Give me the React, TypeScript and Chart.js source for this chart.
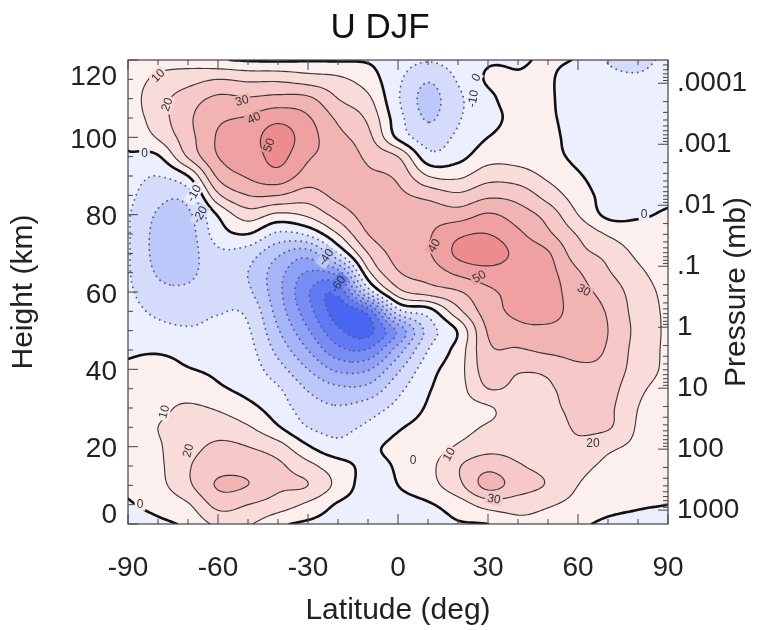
import React, { useEffect, useRef } from 'react';
import { Chart, registerables } from 'chart.js';

Chart.register(...registerables);

const FONT_FAMILY = "'Liberation Sans', Arial, Helvetica, sans-serif";

// ---------------- data ----------------
const latitudes = [-90, -80, -70, -60, -50, -40, -30, -20, -10, 0, 10, 20, 30, 40, 50, 60, 70, 80, 90];
const heights = [0, 5, 10, 15, 20, 25, 30, 35, 40, 45, 50, 55, 60, 65, 70, 75, 80, 85, 90, 95, 100, 105, 110, 115, 120];

// zonal wind U (m/s), one row per height (km), columns follow `latitudes`
const uWind: number[][] = [
  /*   0 */ [-4, -2, 2, 12, 11, 2, -2, -4, -4, -4, -4, -1, 0, 7, 6, 2, -2, -3, -4],
  /*   5 */ [-1, 3, 9, 23, 20, 15, 8, -1, -4, -3, -1, 5, 14, 14, 11, 7, 3, 1, 0],
  /*  10 */ [2, 7, 18, 31, 30, 22, 20, 7, -4, 0, 6, 17, 33, 25, 19, 10, 6, 4, 2],
  /*  15 */ [3, 8, 19, 26, 26, 22, 13, 4, -2, 1, 7, 19, 27, 21, 17, 13, 8, 6, 3],
  /*  20 */ [3, 9, 16, 22, 20, 14, 1, -7, -2, 2, 5, 11, 16, 16, 15, 18, 12, 8, 4],
  /*  25 */ [3, 10, 12, 15, 11, 1, -10, -13, -8, -1, 3, 7, 11, 14, 16, 21, 21, 9, 5],
  /*  30 */ [3, 8, 11, 9, 3, -5, -15, -19, -15, -7, 1, 6, 9, 15, 18, 22, 22, 10, 6],
  /*  35 */ [2, 6, 6, 1.5, -3, -9, -21, -28, -27, -13, -1, 6, 20, 18, 19, 24, 24, 12, 7],
  /*  40 */ [1, 3, 0.5, -2, -5, -16, -30, -42, -41, -22, -4, 6, 25, 21, 22, 28, 27, 15, 8],
  /*  45 */ [-1, -1, -3, -6, -7, -23, -40, -57, -59, -35, -10, 4, 28, 29, 32, 33, 29, 16, 8],
  /*  50 */ [-3, -7, -9, -8, -9, -29, -49, -68, -73, -48, -16, 1, 31, 37, 38, 36, 30, 17, 8],
  /*  55 */ [-6, -12, -13, -10.5, -12, -34, -56, -74, -66, -14, -5, 17, 35, 42, 43, 36, 29, 16, 8],
  /*  60 */ [-8, -17, -18, -13, -18, -37, -59, -68, -17, 16, 24, 29, 38, 43, 44, 34, 26, 15, 7],
  /*  65 */ [-9, -21, -22, -15, -20, -36, -51, -45, 7, 29, 34, 42, 46, 45, 43, 31, 21, 12, 5],
  /*  70 */ [-9, -23, -24, -12, -15, -28, -35, -10, 20, 34, 39, 52, 56, 47, 41, 24, 17, 8, 3],
  /*  75 */ [-9, -23, -24, -5, 0, -12, -8, 10, 30, 36, 39, 48, 50, 42, 32, 19, 9, 4, 2],
  /*  80 */ [-9, -21, -22, 1, 15, 8, 12, 24, 34, 35, 36, 35, 41, 35, 26, 10, -2, -1, 1],
  /*  85 */ [-7, -17, -15, 18, 30, 30, 25, 33, 35, 32, 27, 22, 28, 26, 16, 5, -3, -3, -2],
  /*  90 */ [-5, -10, 0, 32, 41, 46, 36, 38, 32, 28, 10, 8, 16, 15, 8, 1, -4, -4, -3],
  /*  95 */ [-1, -1, 21, 40, 44, 53, 41, 37, 28, 20, -6, -3, 6, 6, 3, -2, -5, -5, -4],
  /* 100 */ [2, 11, 26, 41, 45, 55, 44, 33, 23, -2, -15, -8, 0, 3, 2, -3, -5, -5, -4],
  /* 105 */ [4, 15, 28, 38, 41, 47, 41, 28, 18, -6, -21, -11, -3, 2, 1, -3, -6, -6, -5],
  /* 110 */ [5, 16, 25, 32, 31, 33, 32, 20, 12, -9, -23, -12, -2, 3, 1, -4, -7, -7, -6],
  /* 115 */ [5, 12, 16, 20, 18, 18, 15, 12, 5, -8, -19, -9, 1, 1, 1, -5, -8, -9, -7],
  /* 120 */ [4, 6, 5, 1, -1, -1.5, -1, -1, -1, -5, -9, -5, -1, -1, 1, -1, -10.5, -12, -8],
];

const latTicks = [-90, -60, -30, 0, 30, 60, 90];
const heightTicks = [0, 20, 40, 60, 80, 100, 120];
const pressureValues = [1000, 100, 10, 1, 0.1, 0.01, 0.001, 0.0001];
const pressureLabels = ['1000', '100', '10', '1', '.1', '.01', '.001', '.0001'];
const contourLevels = [-80, -70, -60, -50, -40, -30, -20, -10, 0, 10, 20, 30, 40, 50, 60];

const contourLabels = [
  { lat: -80, h: 116, text: '10', angle: -45 },
  { lat: -77, h: 108.5, text: '20', angle: -70 },
  { lat: -52, h: 109.5, text: '30', angle: -15 },
  { lat: -48, h: 105, text: '40', angle: -25 },
  { lat: -43, h: 98, text: '50', angle: -70 },
  { lat: -84.5, h: 96, text: '0', angle: 0 },
  { lat: -68, h: 85.5, text: '-10', angle: -60 },
  { lat: -66, h: 80, text: '-20', angle: -60 },
  { lat: -24, h: 69, text: '-40', angle: -55 },
  { lat: -20, h: 62, text: '-60', angle: -55 },
  { lat: 25, h: 110, text: '-10', angle: -80 },
  { lat: 26, h: 115.5, text: '0', angle: -60 },
  { lat: 82, h: 80, text: '0', angle: 0 },
  { lat: 12, h: 72, text: '40', angle: -60 },
  { lat: 27, h: 64, text: '50', angle: -30 },
  { lat: 62, h: 60.5, text: '30', angle: 30 },
  { lat: 65, h: 21, text: '20', angle: 0 },
  { lat: 5, h: 16.5, text: '0', angle: 0 },
  { lat: 17, h: 18, text: '10', angle: -60 },
  { lat: 32, h: 6.5, text: '30', angle: 10 },
  { lat: -86, h: 5, text: '0', angle: 0 },
  { lat: -78, h: 29, text: '10', angle: -75 },
  { lat: -70, h: 19, text: '20', angle: -75 },
];

// log-pressure height of the right axis: h = H0 - SCALE * log10(p)
const PRESSURE_H0 = 50.9;
const PRESSURE_SCALE = 15.77;
const pressureHeight = (p: number) => PRESSURE_H0 - PRESSURE_SCALE * Math.log10(p);

// ---------------- field interpolation ----------------
const NX = latitudes.length;
const NY = heights.length;

function gridVal(i: number, j: number): number {
  if (j < 0) return 2 * gridVal(i, 0) - gridVal(i, 1);
  if (j >= NY) return 2 * gridVal(i, NY - 1) - gridVal(i, NY - 2);
  if (i < 0) return 2 * uWind[j][0] - uWind[j][1];
  if (i >= NX) return 2 * uWind[j][NX - 1] - uWind[j][NX - 2];
  return uWind[j][i];
}

function cr(p0: number, p1: number, p2: number, p3: number, t: number) {
  return 0.5 * (2 * p1 + (-p0 + p2) * t + (2 * p0 - 5 * p1 + 4 * p2 - p3) * t * t + (-p0 + 3 * p1 - 3 * p2 + p3) * t * t * t);
}

function sample(lat: number, h: number): number {
  const fx = (lat - latitudes[0]) / (latitudes[1] - latitudes[0]);
  const fy = (h - heights[0]) / (heights[1] - heights[0]);
  const i = Math.min(Math.max(Math.floor(fx), 0), NX - 2);
  const j = Math.min(Math.max(Math.floor(fy), 0), NY - 2);
  const tx = fx - i;
  const ty = fy - j;
  const c: number[] = [];
  for (let dj = -1; dj <= 2; dj++) {
    c.push(cr(gridVal(i - 1, j + dj), gridVal(i, j + dj), gridVal(i + 1, j + dj), gridVal(i + 2, j + dj), tx));
  }
  return cr(c[0], c[1], c[2], c[3], ty);
}

const FLAT_STEP = 1;
const FH_STEP = 0.5;
const FNX = Math.round((latitudes[NX - 1] - latitudes[0]) / FLAT_STEP) + 1;
const FNY = Math.round((heights[NY - 1] - heights[0]) / FH_STEP) + 1;
let fineField: Float64Array | null = null;
function getField(): Float64Array {
  if (fineField) return fineField;
  const f = new Float64Array(FNX * FNY);
  for (let j = 0; j < FNY; j++) {
    for (let i = 0; i < FNX; i++) {
      f[j * FNX + i] = sample(latitudes[0] + i * FLAT_STEP, heights[0] + j * FH_STEP);
    }
  }
  fineField = f;
  return f;
}

function fieldAt(f: Float64Array, lat: number, h: number): number {
  let gx = (lat - latitudes[0]) / FLAT_STEP;
  let gy = (h - heights[0]) / FH_STEP;
  gx = Math.min(Math.max(gx, 0), FNX - 1.0001);
  gy = Math.min(Math.max(gy, 0), FNY - 1.0001);
  const i = Math.floor(gx), j = Math.floor(gy);
  const tx = gx - i, ty = gy - j;
  const a = f[j * FNX + i], b = f[j * FNX + i + 1], c = f[(j + 1) * FNX + i + 1], d = f[(j + 1) * FNX + i];
  return a * (1 - tx) * (1 - ty) + b * tx * (1 - ty) + c * tx * ty + d * (1 - tx) * ty;
}

function bandColor(v: number): [number, number, number] {
  const m = Math.floor(v / 10) * 10 + 5;
  if (m > 0) {
    const t = (m - 5) / 50;
    return [252 - 16 * t, 240 - 100 * t, 238 - 98 * t].map((c) => Math.max(0, Math.min(255, Math.round(c)))) as [number, number, number];
  }
  const t = (-m - 5) / 70;
  return [236 - 164 * t, 239 - 137 * t, 253 - 11 * t].map((c) => Math.max(0, Math.min(255, Math.round(c)))) as [number, number, number];
}

// marching squares + chaining, returns polylines in fine-grid coords
function traceLevel(f: Float64Array, L: number): Array<Array<[number, number]>> {
  const nx = FNX, ny = FNY;
  const NH = nx * ny;
  const v = (i: number, j: number) => f[j * nx + i];
  const segA: number[] = [];
  const segB: number[] = [];
  const add = (p: number, q: number) => { segA.push(p); segB.push(q); };
  for (let j = 0; j < ny - 1; j++) {
    for (let i = 0; i < nx - 1; i++) {
      const a = v(i, j), b = v(i + 1, j), c = v(i + 1, j + 1), d = v(i, j + 1);
      const idx = (a >= L ? 1 : 0) | (b >= L ? 2 : 0) | (c >= L ? 4 : 0) | (d >= L ? 8 : 0);
      if (idx === 0 || idx === 15) continue;
      const e0 = j * nx + i, e1 = NH + j * nx + i + 1, e2 = (j + 1) * nx + i, e3 = NH + j * nx + i;
      const center = (a + b + c + d) / 4 >= L;
      switch (idx) {
        case 1: case 14: add(e3, e0); break;
        case 2: case 13: add(e0, e1); break;
        case 3: case 12: add(e3, e1); break;
        case 4: case 11: add(e1, e2); break;
        case 6: case 9: add(e0, e2); break;
        case 7: case 8: add(e3, e2); break;
        case 5: if (center) { add(e0, e1); add(e2, e3); } else { add(e3, e0); add(e1, e2); } break;
        case 10: if (center) { add(e3, e0); add(e1, e2); } else { add(e0, e1); add(e2, e3); } break;
        default: break;
      }
    }
  }
  const edgePt = (key: number): [number, number] => {
    if (key < NH) {
      const j = Math.floor(key / nx), i = key % nx;
      const a = v(i, j), b = v(i + 1, j);
      return [i + (L - a) / (b - a), j];
    }
    const k = key - NH;
    const j = Math.floor(k / nx), i = k % nx;
    const a = v(i, j), b = v(i, j + 1);
    return [i, j + (L - a) / (b - a)];
  };
  const n = segA.length;
  const adj = new Map<number, number[]>();
  for (let s = 0; s < n; s++) {
    for (const k of [segA[s], segB[s]]) {
      let l = adj.get(k);
      if (!l) { l = []; adj.set(k, l); }
      l.push(s);
    }
  }
  const used = new Uint8Array(n);
  const walk = (start: number): number[] => {
    const out: number[] = [];
    let cur = start;
    for (;;) {
      const list = adj.get(cur)!;
      let nxt = -1;
      for (const s of list) if (!used[s]) { nxt = s; break; }
      if (nxt < 0) break;
      used[nxt] = 1;
      cur = segA[nxt] === cur ? segB[nxt] : segA[nxt];
      out.push(cur);
    }
    return out;
  };
  const lines: Array<Array<[number, number]>> = [];
  for (let s = 0; s < n; s++) {
    if (used[s]) continue;
    used[s] = 1;
    const fwd = walk(segB[s]);
    const bwd = walk(segA[s]).reverse();
    const keys = [...bwd, segA[s], segB[s], ...fwd];
    lines.push(keys.map(edgePt));
  }
  return lines;
}

// ---------------- plugin ----------------
const contourPlugin = {
  id: 'uContours',
  beforeDatasetsDraw(chart: any) {
    const { ctx, chartArea, scales } = chart;
    const xs = scales.x, ys = scales.y;
    const f = getField();
    const left = Math.round(chartArea.left), top = Math.round(chartArea.top);
    const w = Math.round(chartArea.right) - left, hgt = Math.round(chartArea.bottom) - top;

    // filled bands
    const off = document.createElement('canvas');
    off.width = w; off.height = hgt;
    const octx = off.getContext('2d')!;
    const img = octx.createImageData(w, hgt);
    const lats = new Float64Array(w);
    for (let px = 0; px < w; px++) lats[px] = xs.getValueForPixel(left + px + 0.5);
    for (let py = 0; py < hgt; py++) {
      const h = ys.getValueForPixel(top + py + 0.5);
      for (let px = 0; px < w; px++) {
        const [r, g, b] = bandColor(fieldAt(f, lats[px], h));
        const o = (py * w + px) * 4;
        img.data[o] = r; img.data[o + 1] = g; img.data[o + 2] = b; img.data[o + 3] = 255;
      }
    }
    octx.putImageData(img, 0, 0);
    ctx.save();
    ctx.drawImage(off, left, top);

    // contour lines
    ctx.beginPath();
    ctx.rect(chartArea.left, chartArea.top, chartArea.right - chartArea.left, chartArea.bottom - chartArea.top);
    ctx.clip();
    const toPx = (p: [number, number]) => [
      xs.getPixelForValue(latitudes[0] + p[0] * FLAT_STEP),
      ys.getPixelForValue(heights[0] + p[1] * FH_STEP),
    ];
    for (const L of contourLevels) {
      const lines = traceLevel(f, L);
      if (L === 0) {
        ctx.strokeStyle = '#111'; ctx.lineWidth = 2.6; ctx.setLineDash([]); ctx.lineCap = 'round';
      } else if (L > 0) {
        ctx.strokeStyle = '#383838'; ctx.lineWidth = 1.15; ctx.setLineDash([]); ctx.lineCap = 'round';
      } else {
        ctx.strokeStyle = '#565c76'; ctx.lineWidth = 1.9; ctx.setLineDash([0.01, 5.5]); ctx.lineCap = 'round';
      }
      ctx.lineJoin = 'round';
      for (const line of lines) {
        if (line.length < 2) continue;
        ctx.beginPath();
        line.forEach((p, k) => {
          const [x, y] = toPx(p);
          if (k === 0) ctx.moveTo(x, y); else ctx.lineTo(x, y);
        });
        ctx.stroke();
      }
    }
    ctx.setLineDash([]);

    // contour labels
    ctx.font = `12px ${FONT_FAMILY}`;
    ctx.textAlign = 'center';
    ctx.textBaseline = 'middle';
    for (const lb of contourLabels) {
      const x = xs.getPixelForValue(lb.lat);
      const y = ys.getPixelForValue(lb.h);
      const [r, g, b] = bandColor(fieldAt(f, lb.lat, lb.h));
      const tw = ctx.measureText(lb.text).width;
      ctx.save();
      ctx.translate(x, y);
      ctx.rotate((lb.angle * Math.PI) / 180);
      ctx.fillStyle = `rgb(${r},${g},${b})`;
      ctx.fillRect(-tw / 2 - 2, -6, tw + 4, 12);
      ctx.fillStyle = '#333';
      ctx.fillText(lb.text, 0, 0.5);
      ctx.restore();
    }
    ctx.restore();
  },
  afterDraw(chart: any) {
    const { ctx, chartArea, scales } = chart;
    const xs = scales.x, ys = scales.y;
    const { left, right, top, bottom } = chartArea;
    ctx.save();
    ctx.strokeStyle = '#444';
    ctx.lineWidth = 1.2;
    ctx.strokeRect(left, top, right - left, bottom - top);
    ctx.lineWidth = 1;
    ctx.beginPath();
    // latitude ticks (bottom + top), inward
    for (let lat = -90; lat <= 90; lat += 10) {
      const x = xs.getPixelForValue(lat);
      const len = lat % 30 === 0 ? 10 : 5;
      ctx.moveTo(x, bottom); ctx.lineTo(x, bottom - len);
      ctx.moveTo(x, top); ctx.lineTo(x, top + len);
    }
    // height ticks (left), inward
    for (let h = 0; h <= 120; h += 5) {
      const y = ys.getPixelForValue(h);
      const len = h % 20 === 0 ? 10 : 5;
      ctx.moveTo(left, y); ctx.lineTo(left + len, y);
    }
    // pressure ticks (right), inward
    for (let e = -5; e <= 3; e++) {
      for (let k = 1; k <= 9; k++) {
        const p = k * Math.pow(10, e);
        const h = pressureHeight(p);
        if (h < 0 || h > 120) continue;
        const y = ys.getPixelForValue(h);
        const len = k === 1 ? 10 : 5;
        ctx.moveTo(right, y); ctx.lineTo(right - len, y);
      }
    }
    ctx.stroke();

    ctx.fillStyle = '#222';
    // height tick labels (end labels kept inside the frame span)
    ctx.font = `28px ${FONT_FAMILY}`;
    ctx.textAlign = 'right';
    ctx.textBaseline = 'middle';
    for (const h of heightTicks) {
      const y = Math.min(Math.max(ys.getPixelForValue(h) + 3, top + 17), bottom - 9);
      ctx.fillText(String(h), left - 11, y);
    }

    // axis titles
    ctx.font = `30px ${FONT_FAMILY}`;
    ctx.textAlign = 'center';
    ctx.textBaseline = 'middle';
    ctx.fillText('Latitude (deg)', (left + right) / 2, 611);
    ctx.save();
    ctx.translate(24, (top + bottom) / 2);
    ctx.rotate(-Math.PI / 2);
    ctx.fillText('Height (km)', 0, 0);
    ctx.restore();
    ctx.save();
    ctx.translate(737, (top + bottom) / 2);
    ctx.rotate(-Math.PI / 2);
    ctx.fillText('Pressure (mb)', 0, 0);
    ctx.restore();
    ctx.restore();
  },
};

export default function App() {
  const canvasRef = useRef<HTMLCanvasElement | null>(null);
  useEffect(() => {
    if (!canvasRef.current) return;
    Chart.defaults.font.family = FONT_FAMILY;
    Chart.defaults.color = '#222';
    const chart = new Chart(canvasRef.current, {
      type: 'scatter',
      data: { datasets: [] },
      options: {
        responsive: false,
        maintainAspectRatio: false,
        animation: false,
        events: [],
        layout: { padding: 0 },
        plugins: {
          legend: { display: false },
          tooltip: { enabled: false },
          title: {
            display: true,
            text: 'U DJF',
            color: '#111',
            font: { size: 35, weight: 'normal', family: FONT_FAMILY },
            padding: { top: 7, bottom: 11 },
          },
        },
        scales: {
          x: {
            type: 'linear',
            min: -90,
            max: 90,
            afterBuildTicks: (s: any) => { s.ticks = latTicks.map((v) => ({ value: v })); },
            afterFit: (s: any) => { s.height = 106; },
            ticks: { font: { size: 28 }, color: '#222', padding: 27, maxRotation: 0, autoSkip: false },
            grid: { display: false, drawTicks: false },
            border: { display: false },
          },
          y: {
            type: 'linear',
            position: 'left',
            min: 0,
            max: 120,
            afterBuildTicks: (s: any) => { s.ticks = heightTicks.map((v) => ({ value: v })); },
            afterFit: (s: any) => { s.width = 128; },
            ticks: { display: false },
            grid: { display: false, drawTicks: false },
            border: { display: false },
          },
          y2: {
            type: 'linear',
            position: 'right',
            min: 0,
            max: 120,
            afterBuildTicks: (s: any) => { s.ticks = pressureValues.map((p) => ({ value: pressureHeight(p) })); },
            afterFit: (s: any) => { s.width = 92; },
            ticks: {
              font: { size: 28 },
              color: '#222',
              padding: 9,
              autoSkip: false,
              callback: (_v: any, i: number) => pressureLabels[i],
            },
            grid: { display: false, drawTicks: false },
            border: { display: false },
          },
        },
      } as any,
      plugins: [contourPlugin],
    });
    return () => chart.destroy();
  }, []);

  return (
    <div style={{ position: 'absolute', left: 0, top: 0, width: 760, height: 630, background: '#fff' }}>
      <canvas ref={canvasRef} width={760} height={630} style={{ width: 760, height: 630, display: 'block' }} />
    </div>
  );
}
